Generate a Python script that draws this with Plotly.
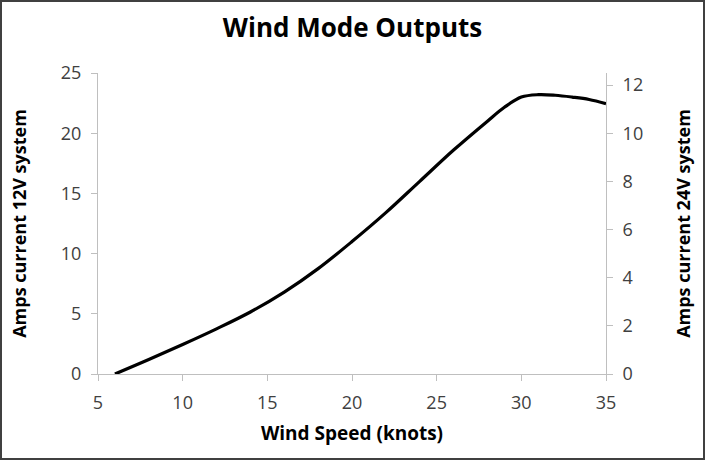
import plotly.graph_objects as go

# wind speed (knots) and output current on the 12V system (amps)
wind_knots = [6, 8, 10, 12, 14, 16, 18, 20, 22, 24, 26, 28, 29, 30, 31, 32, 33, 34, 35]
amps_12v = [0, 1.2, 2.45, 3.75, 5.15, 6.8, 8.75, 11.0, 13.4, 16.0, 18.6, 21.0, 22.15,
            23.0, 23.2, 23.15, 23.0, 22.8, 22.45]

x_ticks = [5, 10, 15, 20, 25, 30, 35]
y12_ticks = [0, 5, 10, 15, 20, 25]
y24_ticks = [0, 2, 4, 6, 8, 10, 12]

FONT = "Open Sans"
AXIS_GREY = "#bfbfbf"

fig = go.Figure()
fig.add_trace(go.Scatter(
    x=wind_knots, y=amps_12v,
    mode="lines",
    line=dict(color="black", width=3.2, shape="spline", smoothing=1.0),
    showlegend=False,
    hoverinfo="x+y",
))
# invisible trace so the 24V axis is drawn
fig.add_trace(go.Scatter(
    x=[wind_knots[0]], y=[0], yaxis="y2",
    mode="markers", marker=dict(opacity=0), showlegend=False, hoverinfo="skip",
))

axis_common = dict(
    showgrid=False, zeroline=False, showline=True, linecolor=AXIS_GREY, linewidth=1,
    ticks="outside", ticklen=6, tickcolor=AXIS_GREY, ticklabelstandoff=6,
    tickfont=dict(family=FONT, size=18, color="#404040"),
)
title_font = dict(family=FONT, size=18, color="black")

fig.update_layout(
    width=705, height=460,
    paper_bgcolor="white", plot_bgcolor="white",
    margin=dict(l=98, r=99, t=73, b=86),
    title=dict(text="<b>Wind Mode Outputs</b>", x=0.5, xanchor="center",
               y=0.94, yanchor="middle",
               font=dict(family=FONT, size=26, color="black")),
    xaxis=dict(range=[5, 35], tickvals=x_ticks,
               title=dict(text="<b>Wind Speed (knots)</b>", standoff=14,
                          font=dict(family=FONT, size=19, color="black")),
               **axis_common),
    yaxis=dict(range=[0, 25], tickvals=y12_ticks,
               title=dict(text="<b>Amps current 12V system</b>", standoff=29, font=title_font),
               **axis_common),
    yaxis2=dict(range=[0, 12.5], tickvals=y24_ticks, overlaying="y", side="right",
                title=dict(text="<b>Amps current 24V system</b>", standoff=35, font=title_font),
                **axis_common),
    shapes=[dict(type="rect", xref="paper", yref="paper",
                 x0=-97 / 508, x1=1 + 98 / 508, y0=-85 / 301, y1=1 + 72 / 301,
                 line=dict(color="#404040", width=2))],
)

fig.write_html("out.html", config={"displayModeBar": False},
               post_script="document.body.style.margin='0';")
